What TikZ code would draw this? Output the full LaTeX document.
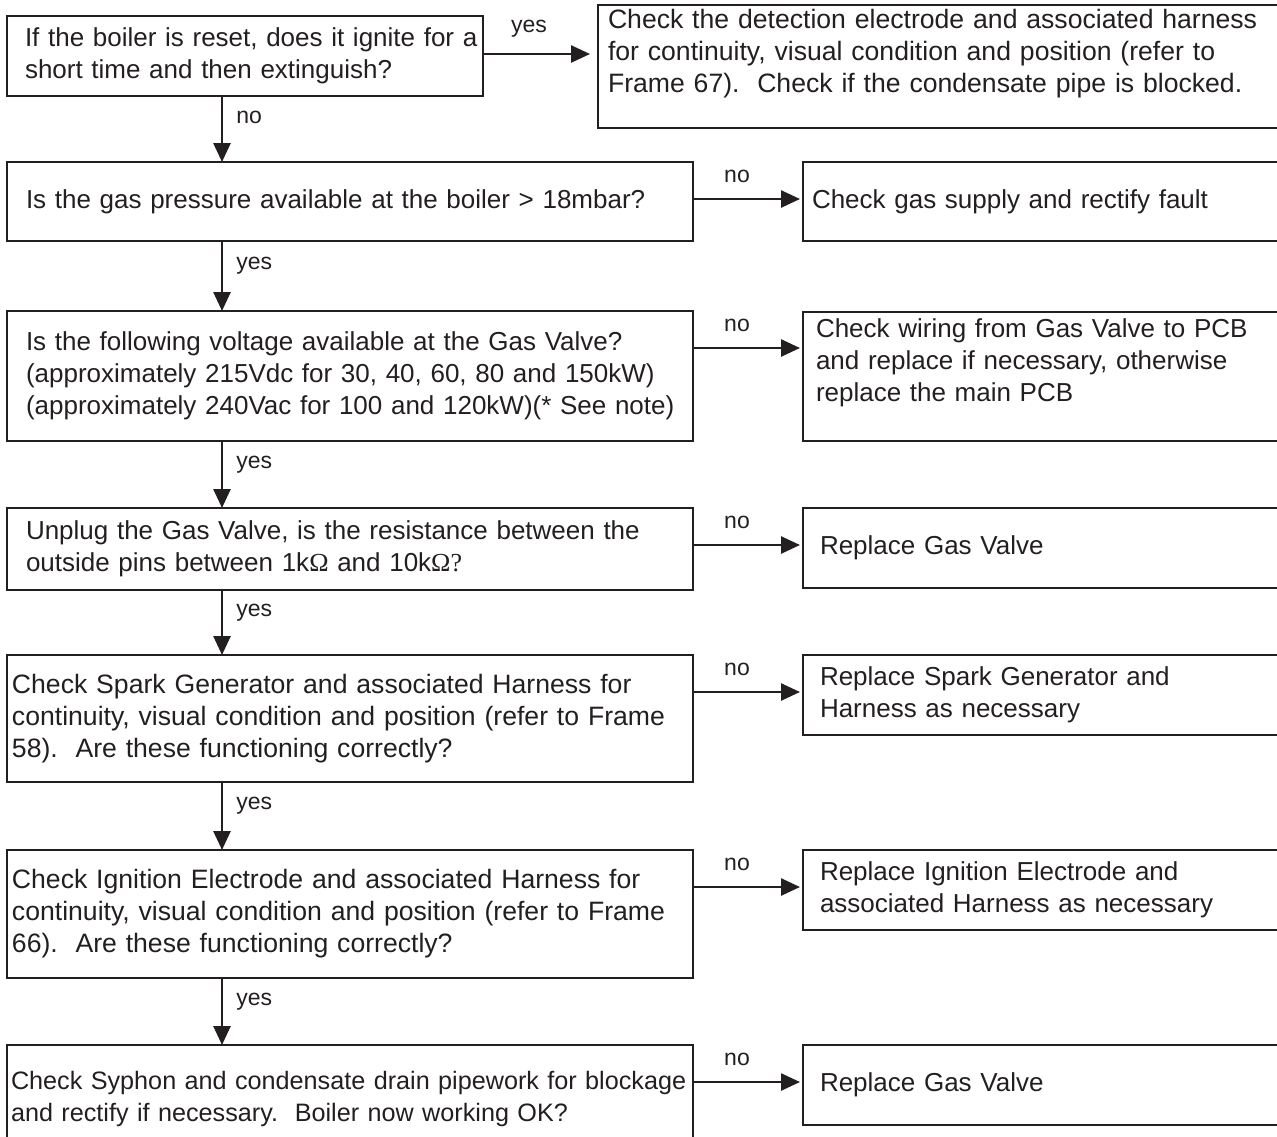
\documentclass[tikz,border=0pt]{standalone}
\usepackage{fontspec}
\setmainfont{Liberation Sans}
\newfontfamily\omegafont{Liberation Serif}
\usetikzlibrary{arrows.meta}
\definecolor{ink}{RGB}{35,31,32}
\frenchspacing
\begin{document}
\begin{tikzpicture}[x=1pt, y=-1pt,
    qbox/.style={draw=ink, line width=2.8pt, anchor=north west, outer sep=0pt, inner ysep=0pt,
        align=left, text=ink, font=\fontsize{26}{32}\selectfont},
    bigtext/.style={font=\fontsize{26.6}{32}\selectfont},
    lbl/.style={text=ink, font=\fontsize{23}{26}\selectfont, inner sep=2pt},
    flow/.style={draw=ink, line width=2.6pt, -{Triangle[length=19pt, width=17pt]}}
]
\useasboundingbox (0,0) rectangle (1277,1136);
\def\ax{215pt}
\def\ay{-37pt}

% questions
\node[qbox, minimum height=80pt, inner xsep=18pt, text width=440pt] (b1) at (7,16)
    {\mbox{If the boiler is reset, does it ignite for a}\\short time and then extinguish?};
\node[qbox, minimum height=79pt, inner xsep=19pt, text width=648pt] (b2) at (7,162)
    {Is the gas pressure available at the boiler > 18mbar?};
\node[qbox, minimum height=130pt, inner xsep=19pt, text width=648pt] (b3) at (7,311)
    {Is the following voltage available at the Gas Valve?\\
     (approximately 215Vdc for 30, 40, 60, 80 and 150kW)\\
     \mbox{(approximately 240Vac for 100 and 120kW)(* See note)}};
\node[qbox, minimum height=82pt, inner xsep=19pt, text width=648pt] (b4) at (7,508)
    {Unplug the Gas Valve, is the resistance between the\\
     outside pins between 1k{\omegafont Ω} and 10k{\omegafont Ω?}};
\node[qbox, bigtext, minimum height=127pt, inner xsep=5pt, text width=676pt] (b5) at (7,655)
    {Check Spark Generator and associated Harness for\\
     \mbox{continuity, visual condition and position (refer to Frame}\\
     58).~ Are these functioning correctly?};
\node[qbox, bigtext, minimum height=128pt, inner xsep=5pt, text width=676pt] (b6) at (7,850)
    {Check Ignition Electrode and associated Harness for\\
     \mbox{continuity, visual condition and position (refer to Frame}\\
     66).~ Are these functioning correctly?};
\node[qbox, minimum height=107pt, inner xsep=4pt, text width=678pt, font=\fontsize{25.2}{32}\selectfont] (b7) at (7,1045)
    {\mbox{Check Syphon and condensate drain pipework for blockage}\\
     and rectify if necessary.~ Boiler now working OK?};

% actions
\node[qbox, bigtext, minimum height=123pt, inner xsep=10pt, text width=661pt] (r1) at (598,5)
    {Check the detection electrode and associated harness\\
     for continuity, visual condition and position (refer to\\
     Frame 67).~ Check if the condensate pipe is blocked.\\ \mbox{}};
\node[qbox, minimum height=79pt, inner xsep=9pt, text width=458pt] (r2) at (803,162)
    {Check gas supply and rectify fault};
\node[qbox, minimum height=129pt, inner xsep=13pt, text width=450pt] (r3) at (803,312)
    {Check wiring from Gas Valve to PCB\\
     and replace if necessary, otherwise\\
     replace the main PCB\\ \mbox{}};
\node[qbox, minimum height=80pt, inner xsep=17pt, text width=442pt] (r4) at (803,508)
    {Replace Gas Valve};
\node[qbox, minimum height=80pt, inner xsep=17pt, text width=442pt] (r5) at (803,655)
    {Replace Spark Generator and\\Harness as necessary};
\node[qbox, minimum height=80pt, inner xsep=17pt, text width=442pt] (r6) at (803,850)
    {Replace Ignition Electrode and\\associated Harness as necessary};
\node[qbox, minimum height=80pt, inner xsep=17pt, text width=442pt] (r7) at (803,1045)
    {Replace Gas Valve};

% side branches
\draw[flow, shorten >=8pt] ([yshift=-38pt]b1.north east) -- node[lbl, above=13pt, pos=0.4] {yes}
    ([yshift=-38pt]b1.north east -| r1.west);
\foreach \i in {2,...,7}
    \draw[flow, shorten >=3pt] ([yshift=\ay]b\i.north east) -- node[lbl, above=13pt, pos=0.4] {no}
        ([yshift=\ay]b\i.north east -| r\i.west);

% main line
\draw[flow] ([xshift=\ax]b1.south west) -- node[lbl, right=11pt, pos=0.33] {no} ([xshift=\ax]b2.north west);
\foreach \i/\j in {2/3,3/4,4/5,5/6,6/7}
    \draw[flow] ([xshift=\ax]b\i.south west) -- node[lbl, right=11pt, pos=0.35] {yes} ([xshift=\ax]b\j.north west);
\end{tikzpicture}
\end{document}
